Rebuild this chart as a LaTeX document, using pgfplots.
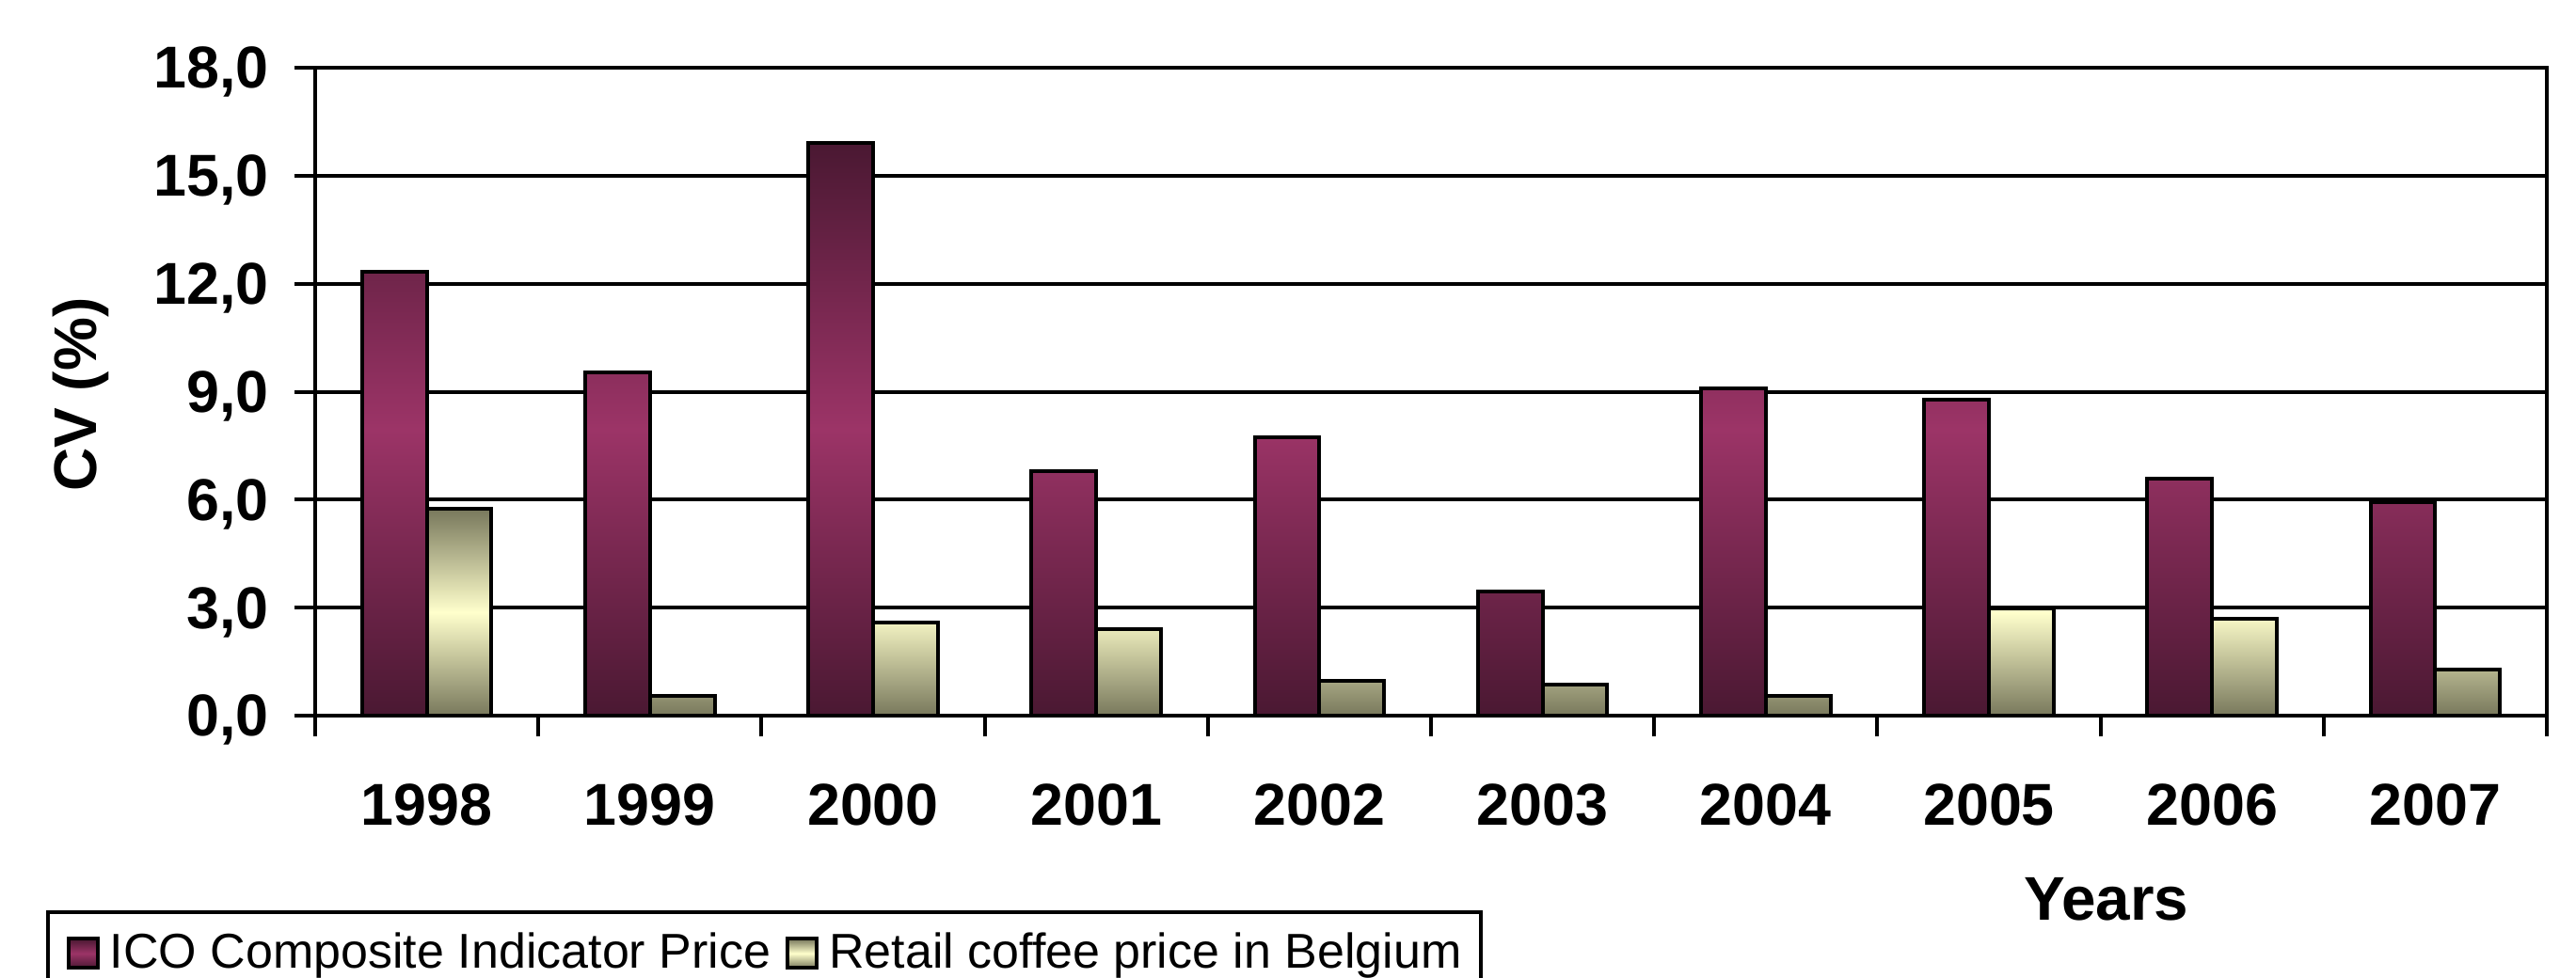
\documentclass[border=0pt]{standalone}
\usepackage{pgfplots}
\pgfplotsset{compat=1.18}
\usepackage{fontspec}
\setmainfont{Liberation Sans}
\definecolor{pinkdark}{HTML}{4A1832}
\definecolor{pinkmid}{HTML}{9C3467}
\definecolor{yeldark}{HTML}{78785C}
\definecolor{yelmid}{HTML}{FFFFCC}
\pgfplotsset{sqlegend/.style={legend image code/.code={\path (-2pt,0pt) (8.5pt,0pt);\draw[##1] (0pt,-3.85pt) rectangle (7.7pt,3.85pt);}}}
\pgfplotstableread{
x ico retail
0 12.34 5.74
1 9.53 0.56
2 15.92 2.59
3 6.80 2.40
4 7.73 0.96
5 3.44 0.85
6 9.10 0.56
7 8.78 2.98
8 6.58 2.69
9 5.94 1.28
}\datatable
\begin{document}
\begin{tikzpicture}
\begin{axis}[
  scale only axis, width=593pt, height=172.25pt,
  xmin=-0.5, xmax=9.5, ymin=0, ymax=18,
  ybar=0pt, bar width=0.29,
  ytick={0,3,6,9,12,15,18},
  ymajorgrids, grid style={black, line width=1pt},
  axis line style={line width=1pt},
  tick style={black, line width=1pt},
  major tick length=5.5pt, tick align=outside,
  xtick pos=bottom, ytick pos=left,
  xtick={-0.5,0.5,1.5,2.5,3.5,4.5,5.5,6.5,7.5,8.5,9.5},
  xticklabels={},
  extra x ticks={0,1,2,3,4,5,6,7,8,9},
  extra x tick labels={1998,1999,2000,2001,2002,2003,2004,2005,2006,2007},
  extra x tick style={major tick length=0pt, xticklabel style={yshift=-14.6pt}},
  /pgf/number format/assume math mode=true,
  tick label style={font=\fontsize{15.7}{18}\selectfont\bfseries},
  yticklabel style={/pgf/number format/.cd, fixed, fixed zerofill, precision=1, use comma, /tikz/.cd, xshift=-3.3pt, text depth=0pt},
  ylabel={CV (\%)},
  ylabel style={at={(axis description cs:-0.105,0.4956)}, anchor=center, font=\fontsize{16}{19}\selectfont\bfseries},
  xlabel={Years},
  xlabel style={at={(axis description cs:0.8025,0)}, anchor=center, yshift=-48.75pt, font=\fontsize{16.4}{19}\selectfont\bfseries},
  legend columns=2,
  legend cell align=left,
  legend style={at={(axis description cs:0,0)}, anchor=north west, xshift=-71.5pt, yshift=-51.75pt,
    draw=black, line width=1pt, font=\fontsize{13}{15}\selectfont, inner xsep=3pt, inner ysep=3.5pt,
    /tikz/every even column/.append style={column sep=0pt}},
]
\addplot[draw=black, line width=1pt, top color=pinkdark, bottom color=pinkdark, middle color=pinkmid, sqlegend]
  table[x=x, y=ico] {\datatable};
\addlegendentry{ICO Composite Indicator Price}
\addplot[draw=black, line width=1pt, top color=yeldark, bottom color=yeldark, middle color=yelmid, sqlegend]
  table[x=x, y=retail] {\datatable};
\addlegendentry{Retail coffee price in Belgium}
\end{axis}
\pgfresetboundingbox
\path[use as bounding box] (-83.75pt,-69.5pt) rectangle (600.75pt,190.25pt);
\end{tikzpicture}
\end{document}
